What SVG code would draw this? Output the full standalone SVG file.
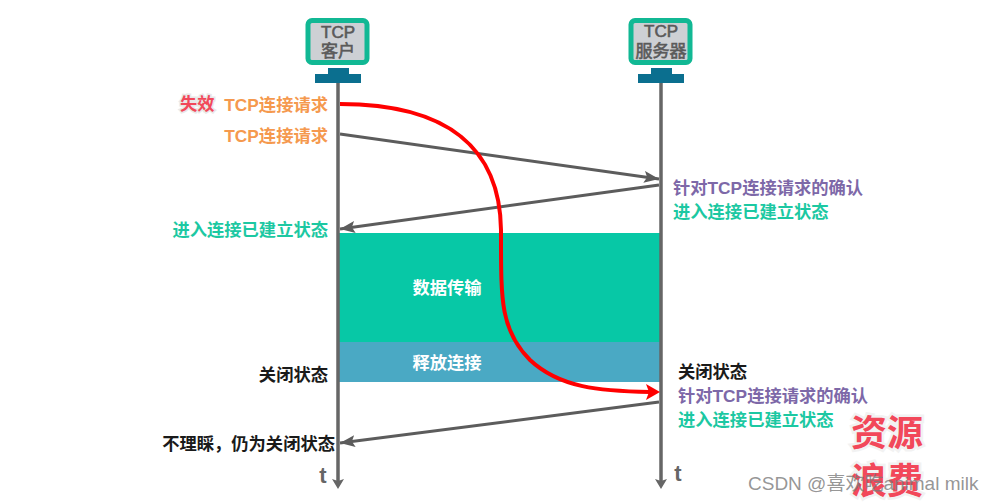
<svg xmlns="http://www.w3.org/2000/svg" width="996" height="502" viewBox="0 0 996 502">
<style>
text{font-family:"Liberation Sans","Noto Sans CJK SC",sans-serif;font-weight:700;font-size:17.300px}
.or{fill:#f5994e}.pu{fill:#7d68a8}.gr{fill:#1cc8a2}.bk{fill:#1a1a1a}.wh{fill:#fff}
.end{text-anchor:end}.mid{text-anchor:middle}
.box{fill:#cdd0d4;stroke:#11b894;stroke-width:5}
.base{fill:#0b6f8f}
.nm{fill:#5a5a5a;font-size:17px;text-anchor:middle;font-weight:400;stroke:#5a5a5a;stroke-width:.6}
.life{stroke:#666;stroke-width:3.500;fill:none;marker-end:url(#ahd)}
.msg{stroke:#5c5c5c;stroke-width:3;fill:none;marker-end:url(#ah)}
.big{font-size:36px;fill:#f2485a;stroke:#f2f2f2;stroke-width:5;paint-order:stroke;text-anchor:middle}
.tt{fill:#666;font-size:22px}
</style>
<defs>
<marker id="ah" markerUnits="userSpaceOnUse" markerWidth="16" markerHeight="12" refX="15" refY="6" orient="auto"><path d="M0 0L15 6L0 12L3 6Z" fill="#5c5c5c"/></marker>
<marker id="ahd" markerUnits="userSpaceOnUse" markerWidth="12" markerHeight="14" refX="2" refY="7" orient="auto"><path d="M0 1L10 7L0 13L2 7Z" fill="#666"/></marker>
</defs>
<g id="bands">
<rect x="339" y="233" width="322" height="109" fill="#07c8a6"/>
<rect x="339" y="342" width="322" height="40" fill="#4aa9c4"/>
<text x="447" y="294" class="mid wh">数据传输</text>
<text x="447" y="369" class="mid wh">释放连接</text>
</g>
<g id="client">
<rect x="308" y="20.500" width="59" height="42" rx="4" class="box"/>
<text x="338" y="38" class="nm">TCP</text><text x="338" y="57" class="nm">客户</text>
<rect x="328" y="68" width="21" height="7" class="base"/><rect x="315" y="74" width="46" height="9" class="base"/>
</g>
<g id="server">
<rect x="631" y="20.500" width="59" height="42" rx="4" class="box"/>
<text x="661" y="37" class="nm">TCP</text><text x="661" y="57" class="nm">服务器</text>
<rect x="651" y="68" width="21" height="7" class="base"/><rect x="638" y="74" width="46" height="9" class="base"/>
</g>
<g id="connectors">
<path class="life" d="M338 83V481"/>
<path class="life" d="M661 83V481"/>
<path class="msg" d="M340 134L659 179"/>
<path class="msg" d="M659 185L340 229"/>
<path class="msg" d="M659 402L340 443"/>
<path d="M340 104C450 104 500 150 501 230C501 300 500 330 530 360C560 388 600 391 650 392" fill="none" stroke="#f00" stroke-width="4"/>
<path d="M646 384L660 392L646 400L649 392Z" fill="#f00"/>
</g>
<g id="labels">
<text x="180" y="110" style="fill:#f2485a;stroke:#e8e8e8;stroke-width:3;paint-order:stroke">失效</text>
<text x="328" y="111" class="or end">TCP连接请求</text>
<text x="328" y="142" class="or end">TCP连接请求</text>
<text x="328" y="236" class="gr end">进入连接已建立状态</text>
<text x="673" y="194" class="pu">针对TCP连接请求的确认</text>
<text x="673" y="218" class="gr">进入连接已建立状态</text>
<text x="328" y="381" class="bk end">关闭状态</text>
<text x="335" y="450" class="bk end">不理睬，仍为关闭状态</text>
<text x="678" y="378" class="bk">关闭状态</text>
<text x="678" y="402" class="pu">针对TCP连接请求的确认</text>
<text x="678" y="426" class="gr">进入连接已建立状态</text>
<text x="323" y="483" class="mid tt">t</text>
<text x="678" y="481" class="mid tt">t</text>
<text x="887" y="446" class="big">资源</text>
<text x="887" y="494" class="big">浪费</text>
<text x="748" y="490" style="font-weight:400;font-size:19px;fill:#7a7a7a;fill-opacity:.8">CSDN @喜欢吃animal milk</text>
</g>
</svg>
